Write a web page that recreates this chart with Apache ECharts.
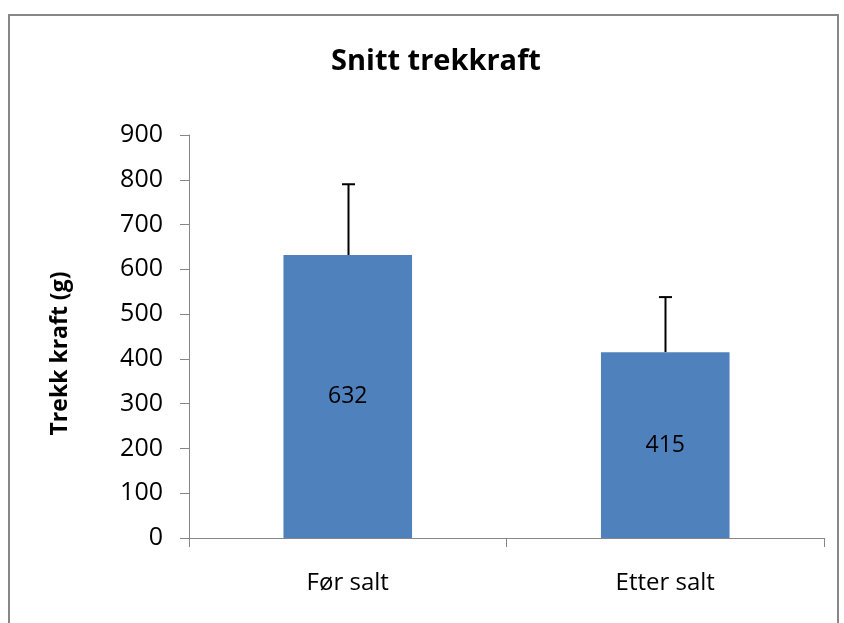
<!DOCTYPE html>
<html>
<head>
<meta charset="utf-8">
<script src="https://cdn.jsdelivr.net/npm/echarts@6/dist/echarts.min.js"></script>
<style>
  html, body { margin: 0; padding: 0; background: #fff; }
  #chart { width: 844px; height: 623px; }
</style>
</head>
<body>
<div id="chart"></div>
<script>
const categories = ["Før salt", "Etter salt"];
const meanValues = [632, 415];
const errorPlus = [158, 123];
const yTicks = { min: 0, max: 900, interval: 100 };

const font = "'Open Sans', 'Noto Sans', sans-serif";
const chart = echarts.init(document.getElementById("chart"));

const errorData = categories.map((c, i) => [i, meanValues[i], meanValues[i] + errorPlus[i]]);

const option = {
  animation: false,
  backgroundColor: "#fff",
  graphic: [{
    type: "rect",
    shape: { x: 9, y: 15, width: 829, height: 700 },
    style: { fill: "none", stroke: "#878787", lineWidth: 2 },
    silent: true
  }],
  title: {
    text: "Snitt trekkraft",
    left: 326,
    top: 42,
    textStyle: { fontFamily: font, fontSize: 29, fontWeight: "bold", color: "#000" }
  },
  grid: { left: 189, right: 20, top: 135, bottom: 85 },
  xAxis: {
    type: "category",
    data: categories,
    axisLine: { lineStyle: { color: "#868686", width: 1 } },
    axisTick: { show: true, length: 9, lineStyle: { color: "#868686" } },
    axisLabel: { fontFamily: font, fontSize: 24, color: "#000", margin: 33 }
  },
  yAxis: {
    type: "value",
    min: yTicks.min,
    max: yTicks.max,
    interval: yTicks.interval,
    name: "Trekk kraft (g)",
    nameLocation: "middle",
    nameGap: 117,
    nameTextStyle: { fontFamily: font, fontSize: 23, fontWeight: "bold", color: "#000", padding: [0, 34, 0, 0] },
    axisLine: { show: true, lineStyle: { color: "#868686", width: 1 } },
    axisTick: { show: true, length: 9, lineStyle: { color: "#868686" } },
    splitLine: { show: false },
    axisLabel: { fontFamily: font, fontSize: 25, color: "#000", margin: 26 }
  },
  series: [
    {
      type: "bar",
      data: meanValues,
      barWidth: "40.5%",
      itemStyle: { color: "#4F81BD" },
      label: {
        show: true,
        position: "inside",
        fontFamily: font,
        fontSize: 23,
        color: "#000"
      }
    },
    {
      type: "custom",
      data: errorData,
      z: 1,
      renderItem: function (params, api) {
        const base = api.coord([api.value(0), api.value(1)]);
        const top = api.coord([api.value(0), api.value(2)]);
        const x = Math.round(base[0]) + 0.5;
        const half = 6.5;
        return {
          type: "group",
          children: [
            { type: "line", shape: { x1: x, y1: base[1], x2: x, y2: top[1] },
              style: { stroke: "#000", lineWidth: 2 } },
            { type: "line", shape: { x1: x - half, y1: top[1], x2: x + half, y2: top[1] },
              style: { stroke: "#000", lineWidth: 2 } }
          ]
        };
      }
    }
  ]
};
chart.setOption(option);
</script>
</body>
</html>
